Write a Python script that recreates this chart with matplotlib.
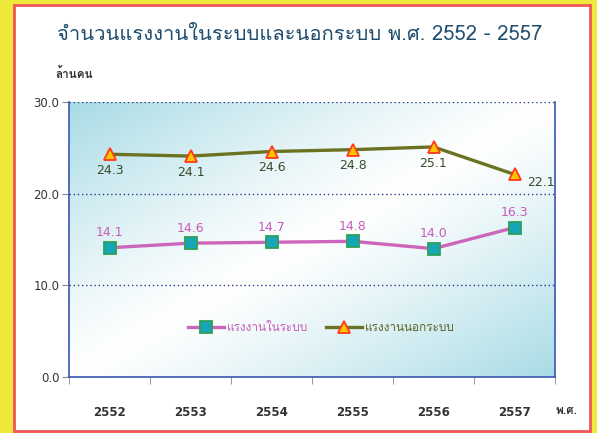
import matplotlib
matplotlib.use("Agg")
import matplotlib.pyplot as plt
import numpy as np
from matplotlib.patches import Rectangle

# Données
annees = ["2552", "2553", "2554", "2555", "2556", "2557"]
en_systeme = [14.1, 14.6, 14.7, 14.8, 14.0, 16.3]
hors_systeme = [24.3, 24.1, 24.6, 24.8, 25.1, 22.1]
lab_en = "แรงงานในระบบ"
lab_hors = "แรงงานนอกระบบ"
titre = "จำนวนแรงงานในระบบและนอกระบบ พ.ศ. 2552 - 2557"
unite = "ล้านคน"

plt.rcParams['font.family'] = ['DejaVu Sans', 'Loma']

fig = plt.figure(figsize=(5.97, 4.33), dpi=100)
fig.patch.set_facecolor('#EDE83A')
cadre = Rectangle((14/597, 1-431/433), 576/597, 426/433, transform=fig.transFigure,
                  facecolor='white', edgecolor='#F0555A', linewidth=2, zorder=-5)
fig.add_artist(cadre)

ax = fig.add_axes([69/597, 1-377/433, 486/597, 275/433])
ax.set_facecolor('none')

# fond en dégradé
n = 200
u, w = np.meshgrid(np.linspace(0, 1, n), np.linspace(1, 0, n))
s = (u + (1 - w)) / 2
v = np.abs(2*s - 1) ** 1.2
c0 = np.array([1.0, 1.0, 1.0])
c1 = np.array([0.66, 0.86, 0.90])
img = c0 + (c1 - c0) * v[..., None]
ax.imshow(img, extent=[0, 1, 0, 1], transform=ax.transAxes, aspect='auto', zorder=0)

x = np.arange(len(annees))
ax.plot(x, en_systeme, color='#CC66BB', lw=2.4, marker='s', ms=8.5, mfc='#17A6B8',
        mec='#2EA055', mew=1.3, label=lab_en, zorder=3)
ax.plot(x, hors_systeme, color='#6B7222', lw=2.4, marker='^', ms=9, mfc='#FFC400',
        mec='#FF3A1A', mew=1.3, label=lab_hors, zorder=3)

for i in x:
    ax.annotate("{:.1f}".format(en_systeme[i]), (i, en_systeme[i]), xytext=(0, 6),
                textcoords='offset points', ha='center', va='bottom', color='#C95BB8', fontsize=9)
    if i == len(x) - 1:
        ax.annotate("{:.1f}".format(hors_systeme[i]), (i, hors_systeme[i]), xytext=(19, -6),
                    textcoords='offset points', ha='center', va='center', color='#3C4A2A', fontsize=9)
    else:
        ax.annotate("{:.1f}".format(hors_systeme[i]), (i, hors_systeme[i]), xytext=(0, -7),
                    textcoords='offset points', ha='center', va='top', color='#3C4A2A', fontsize=9)

ax.set_xlim(-0.5, 5.5)
ax.set_ylim(0, 30)
ax.set_yticks([0, 10, 20, 30])
ax.set_yticklabels(["0.0", "10.0", "20.0", "30.0"], fontsize=8.5, color='#333333')
ax.set_xticks(x)
ax.set_xticklabels(annees, fontsize=8.5, color='#333333', fontweight='bold')
ax.set_xticks(np.arange(-0.5, 6, 1), minor=True)
ax.tick_params(axis='x', which='major', length=0, pad=21)
ax.tick_params(axis='x', which='minor', length=5, color='#888888')
ax.tick_params(axis='y', length=5, color='#888888', pad=2)

for yy in [10, 20, 30]:
    ax.axhline(yy, color='#2A3A8A', lw=1, ls=(0, (1, 2)), zorder=1)
ax.spines['top'].set_visible(False)
for sp in ['left', 'right', 'bottom']:
    ax.spines[sp].set_color('#3A55B0')
    ax.spines[sp].set_linewidth(1.2)

leg = ax.legend(loc='center', bbox_to_anchor=(0.52, 0.18), ncol=2, frameon=False,
                handlelength=3, columnspacing=1.5, handletextpad=0.3,
                prop={'family': 'Loma', 'size': 8.5})
for t, c in zip(leg.get_texts(), ['#C95BB8', '#5A6326']):
    t.set_color(c)

fig.text(300/597, 1-35/433, titre, ha='center', va='center', fontsize=14.5, color='#1E4D6E',
         family=['Loma', 'DejaVu Sans'])
fig.text(55/597, 1-73/433, unite, ha='left', va='center', fontsize=8.5, color='#333333',
         family=['Loma', 'DejaVu Sans'], fontweight='bold')
fig.text(567/597, 1-411/433, "พ.ศ.", ha='center', va='center', fontsize=8.5, color='#333333',
         family=['Loma', 'DejaVu Sans'], fontweight='bold')

fig.savefig("out.png", dpi=100, facecolor=fig.get_facecolor())
